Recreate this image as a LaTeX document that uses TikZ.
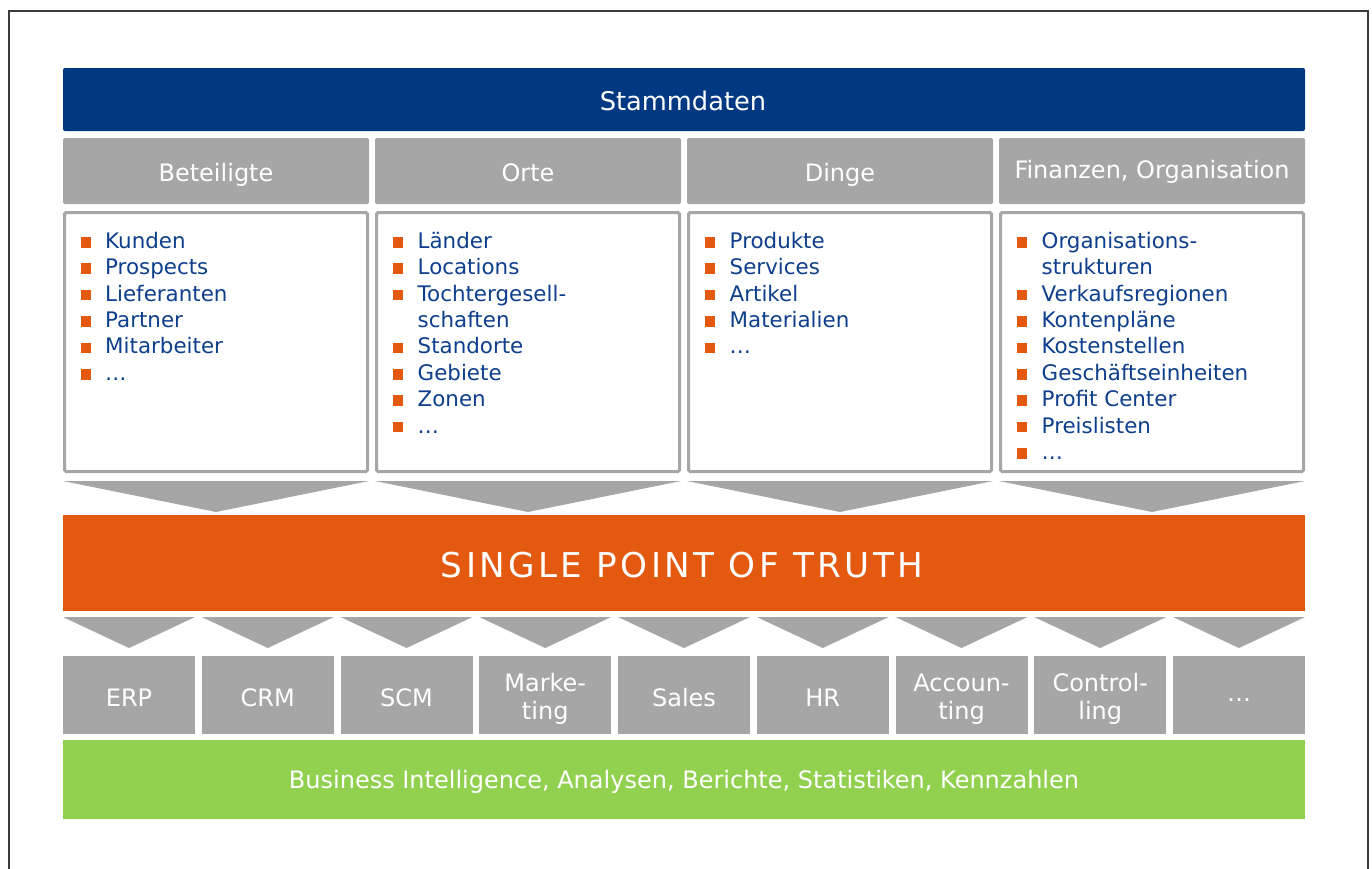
\documentclass[tikz,border=0pt]{standalone}
\usepackage{fontspec}
\usetikzlibrary{calc}
\setmainfont{DejaVu Sans}
\newfontfamily\spacedfont[LetterSpace=10]{DejaVu Sans}
\definecolor{mdblue}{HTML}{003882}
\definecolor{mdgray}{HTML}{A6A6A6}
\definecolor{mdorange}{HTML}{E2590F}
\definecolor{mdgreen}{HTML}{92D050}
\definecolor{mdtext}{HTML}{0E3F8C}
\definecolor{mdframe}{HTML}{3C3C3C}
\begin{document}
\begin{tikzpicture}[x=1pt,y=-1pt,
  bar/.style={inner sep=0pt, outer sep=0pt, anchor=north west},
  hdrbox/.style={bar, fill=mdgray, rounded corners=2pt},
  listbox/.style={draw=mdgray, line width=3pt, fill=white, rounded corners=1.5pt},
  hdrtext/.style={anchor=base, text=white, inner sep=0pt, font=\fontsize{24pt}{28pt}\selectfont},
  itemtext/.style={anchor=base west, text=mdtext, inner sep=0pt, font=\fontsize{21.4pt}{26pt}\selectfont},
  bul/.style={fill=mdorange, inner sep=0pt, minimum size=10.5pt},
  chev/.style={fill=mdgray},
  appbox/.style={bar, fill=mdgray, minimum width=132pt, minimum height=78pt},
  apptext/.style={anchor=base, text=white, inner sep=0pt, align=center, font=\fontsize{24pt}{28pt}\selectfont}
]
\useasboundingbox (0,0) rectangle (1372,868);
\fill[white] (0,0) rectangle (1372,868);
\begin{scope}
  \clip (0,0) rectangle (1372,868);
  \draw[mdframe, line width=2pt] (9,10.5) rectangle (1368,900);
\end{scope}

% Stammdaten bar
\node[bar, fill=mdblue, rounded corners=2pt, minimum width=1242pt, minimum height=63pt] (stamm) at (63,68) {};
\node[hdrtext, font=\fontsize{25.7pt}{30pt}\selectfont] (stammtxt) at (683,110) {Stammdaten};

% column headers
\foreach \x/\t/\n/\by in {63/Beteiligte/h1/181.5, 375/Orte/h2/181.5, 687/Dinge/h3/181.5, 999/{Finanzen, Organisation}/h4/178.5} {
  \node[hdrbox, minimum width=306pt, minimum height=66pt] (\n) at (\x,138) {};
  \node[hdrtext] (\n t) at (\x+153,\by) {\t};
  \draw[listbox] (\x+1.5,212.5) rectangle (\x+304.5,471.5);
  \fill[chev] (\x,481) -- (\x+306,481) -- (\x+153,512) -- cycle;
}

% lists
\foreach \b/\t [count=\i] in {1/Kunden, 1/Prospects, 1/Lieferanten, 1/Partner, 1/Mitarbeiter, 1/…} {
  \node[itemtext] (a\i) at (105, 248.3+26.4*\i-26.4) {\t};
  \ifnum\b=1 \node[bul] (ab\i) at (86.2, 242.3+26.4*\i-26.4) {}; \fi
}
\foreach \b/\t [count=\i] in {1/Länder, 1/Locations, 1/Tochtergesell-, 0/schaften, 1/Standorte, 1/Gebiete, 1/Zonen, 1/…} {
  \node[itemtext] (b\i) at (417.5, 248.3+26.4*\i-26.4) {\t};
  \ifnum\b=1 \node[bul] (bb\i) at (398.2, 242.3+26.4*\i-26.4) {}; \fi
}
\foreach \b/\t [count=\i] in {1/Produkte, 1/Services, 1/Artikel, 1/Materialien, 1/…} {
  \node[itemtext] (c\i) at (729.5, 248.3+26.4*\i-26.4) {\t};
  \ifnum\b=1 \node[bul] (cb\i) at (710.2, 242.3+26.4*\i-26.4) {}; \fi
}
\foreach \b/\t [count=\i] in {1/Organisations-, 0/strukturen, 1/Verkaufsregionen, 1/Kontenpläne, 1/Kostenstellen, 1/Geschäftseinheiten, 1/Profit Center, 1/Preislisten, 1/…} {
  \node[itemtext] (d\i) at (1041.5, 248.3+26.4*\i-26.4) {\t};
  \ifnum\b=1 \node[bul] (db\i) at (1022.2, 242.3+26.4*\i-26.4) {}; \fi
}

% single point of truth
\node[bar, fill=mdorange, minimum width=1242pt, minimum height=96pt] (spot) at (63,515) {};
\node[anchor=base, text=white, inner sep=0pt, font=\spacedfont\fontsize{34.2pt}{40pt}\selectfont] (spottxt) at (682,577) {SINGLE POINT OF TRUTH};

% application boxes
\foreach \i in {1,...,9} {
  \pgfmathsetmacro{\xl}{63+138.75*(\i-1)}
  \fill[chev] (\xl,617) -- (\xl+132,617) -- (\xl+66,648) -- cycle;
  \node[appbox] (app\i) at (\xl,656) {};
}
\foreach \i/\t in {1/ERP, 2/CRM, 3/SCM, 5/Sales, 6/HR} {
  \node[apptext] (appt\i) at ($(app\i.north)+(0,50)$) {\t};
}
\foreach \i/\a/\b in {4/Marke-/ting, 7/Accoun-/ting, 8/Control-/ling} {
  \node[apptext] (appt\i a) at ($(app\i.north)+(0,35)$) {\a};
  \node[apptext] (appt\i b) at ($(app\i.north)+(0,63.5)$) {\b};
}
\node[apptext] (appt9) at ($(app9.north)+(0,45)$) {…};

% BI bar
\node[bar, fill=mdgreen, minimum width=1242pt, minimum height=79pt] (bi) at (63,740) {};
\node[apptext] (bitxt) at (684,788) {Business Intelligence, Analysen, Berichte, Statistiken, Kennzahlen};
\end{tikzpicture}
\end{document}
